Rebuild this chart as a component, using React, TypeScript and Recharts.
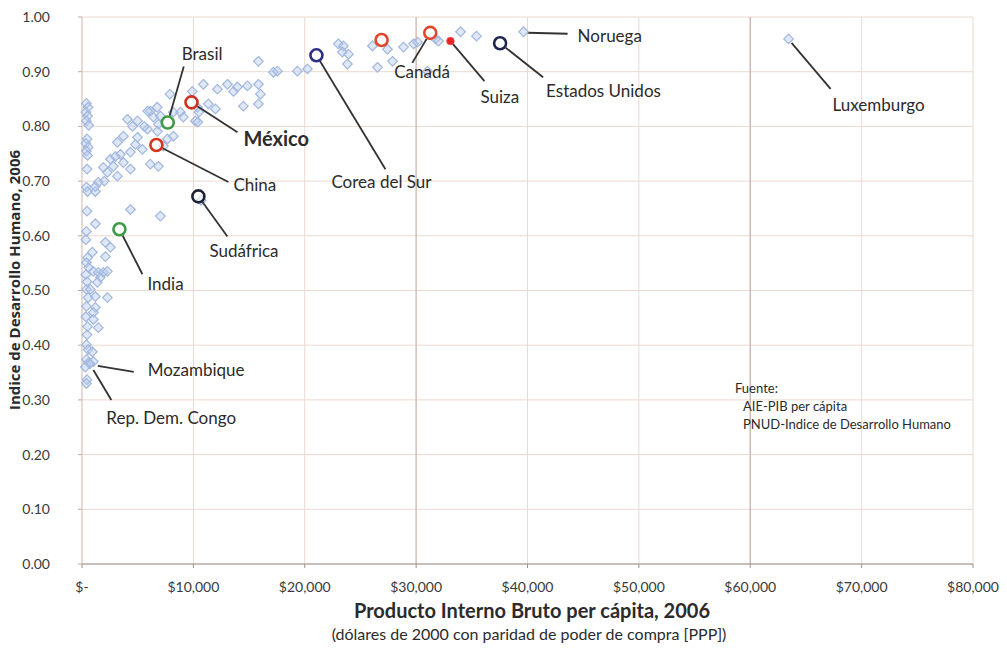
import React from 'react';
import { ScatterChart, Scatter, XAxis, YAxis, CartesianGrid, ReferenceLine } from 'recharts';

const FONT = 'Lato, "Open Sans", sans-serif';

// ---------- data ----------
const xTicks = [0, 10000, 20000, 30000, 40000, 50000, 60000, 70000, 80000];
const xMinorTicks = Array.from({ length: 41 }, (_, i) => i * 2000);
const yTicks = [0, 0.1, 0.2, 0.3, 0.4, 0.5, 0.6, 0.7, 0.8, 0.9, 1.0];

// other countries: [PIB per cápita, IDH]
const otherCountries: [number, number][] = [
  // poorest column
  [400, 0.842], [550, 0.835], [350, 0.826], [500, 0.819], [400, 0.81], [600, 0.802],
  [450, 0.777], [350, 0.769], [550, 0.762], [400, 0.755], [500, 0.747], [450, 0.722],
  [400, 0.689], [500, 0.681], [450, 0.645], [400, 0.608], [350, 0.593], [500, 0.56],
  [400, 0.551], [600, 0.542], [350, 0.529], [450, 0.516], [400, 0.502], [550, 0.487],
  [400, 0.471], [350, 0.452], [500, 0.434], [450, 0.419], [400, 0.401], [550, 0.392],
  [400, 0.374], [600, 0.368], [450, 0.337], [400, 0.33],
  // low income
  [1200, 0.681], [1200, 0.622], [2100, 0.588], [2550, 0.579], [930, 0.57], [2100, 0.562],
  [1020, 0.535], [1470, 0.533], [1920, 0.533], [2280, 0.535], [1650, 0.524], [1380, 0.515],
  [750, 0.502], [1200, 0.489], [2280, 0.487], [1200, 0.469], [1020, 0.46], [1020, 0.447],
  [1470, 0.432], [930, 0.388], [1020, 0.37], [4350, 0.648], [7040, 0.636], [10700, 0.665],
  // middle income cluster
  [1200, 0.69], [1470, 0.698], [1920, 0.725], [2280, 0.716], [2550, 0.74], [2820, 0.727],
  [3180, 0.709], [3180, 0.771], [3450, 0.749], [3720, 0.734], [3720, 0.782], [4080, 0.813],
  [4350, 0.753], [4350, 0.722], [4530, 0.8], [4800, 0.767], [4980, 0.81], [4980, 0.78],
  [5420, 0.758], [5870, 0.795], [6140, 0.828], [6140, 0.731], [6410, 0.817], [6770, 0.791],
  [6860, 0.804], [6860, 0.727], [7040, 0.819], [7310, 0.764], [7670, 0.777], [8210, 0.782],
  [8840, 0.826], [9100, 0.817], [10180, 0.81], [10360, 0.835], [2000, 0.7], [3000, 0.745],
  [5600, 0.8], [7900, 0.859], [9900, 0.864], [5900, 0.828], [6750, 0.835], [8200, 0.826],
  [10400, 0.808],
  // upper middle
  [10900, 0.877], [12160, 0.868], [13060, 0.877], [13600, 0.864], [13950, 0.872], [14850, 0.874],
  [15840, 0.877], [16020, 0.859], [14490, 0.837], [15840, 0.841], [15840, 0.919], [17190, 0.899],
  [17550, 0.901], [19340, 0.901], [20240, 0.905], [11980, 0.832], [11350, 0.841], [10500, 0.826],
  // high income
  [23020, 0.951], [23470, 0.947], [23380, 0.936], [23920, 0.932], [23830, 0.914], [26080, 0.947],
  [27430, 0.941], [27880, 0.919], [26530, 0.908], [28870, 0.945], [29770, 0.951], [30130, 0.954],
  [31740, 0.96], [32010, 0.956], [31020, 0.901], [33990, 0.973], [35420, 0.965],
];

const highlightNames = ['Brasil', 'México', 'China', 'Sudáfrica', 'India', 'Corea del Sur', 'Otro', 'Canadá', 'Suiza', 'Estados Unidos'];
const highlightGdp = [7700, 9830, 6680, 10450, 3360, 21050, 26900, 31270, 33080, 37540];
const highlightHdi = [0.807, 0.844, 0.766, 0.672, 0.612, 0.93, 0.958, 0.971, 0.956, 0.952];

const labeledNames = ['Noruega', 'Luxemburgo', 'Mozambique', 'Rep. Dem. Congo'];
const labeledGdp = [39650, 63440, 700, 300];
const labeledHdi = [0.973, 0.96, 0.366, 0.36];

const sourceLines = ['Fuente:', 'AIE-PIB per cápita', 'PNUD-Indice de Desarrollo Humano'];

// ---------- styles ----------
type Ann = {
  kind: 'ring' | 'dot' | 'diamond';
  color?: string;
  end?: [number, number];
  text?: [number, number];
  anchor?: 'start' | 'middle' | 'end';
  bold?: boolean;
  start?: [number, number];
};

const annStyle: Record<string, Ann> = {
  'Brasil': { kind: 'ring', color: '#3f9a48', end: [16, -56], text: [14, -63] },
  'México': { kind: 'ring', color: '#d2301f', end: [46, 30], text: [52, 44], bold: true },
  'China': { kind: 'ring', color: '#d9331f', end: [72, 37], text: [77, 46] },
  'Sudáfrica': { kind: 'ring', color: '#1d2233', end: [29, 40], text: [11, 61] },
  'India': { kind: 'ring', color: '#3f9a48', end: [23, 45], text: [28, 61] },
  'Corea del Sur': { kind: 'ring', color: '#2a2f86', end: [69, 114], text: [15, 133] },
  'Otro': { kind: 'ring', color: '#e0472c' },
  'Canadá': { kind: 'ring', color: '#e0472c', end: [-18, 30], text: [-36, 45] },
  'Suiza': { kind: 'dot', color: '#e52424', end: [34, 40], text: [30, 62] },
  'Estados Unidos': { kind: 'ring', color: '#1f2650', end: [43, 34], text: [46, 54] },
  'Noruega': { kind: 'diamond', start: [4, 1], end: [44, 2], text: [54, 10] },
  'Luxemburgo': { kind: 'diamond', start: [3, 4], end: [42, 50], text: [44, 72] },
  'Mozambique': { kind: 'diamond', start: [8, 2], end: [44, 8], text: [58, 12] },
  'Rep. Dem. Congo': { kind: 'diamond', start: [8, 3], end: [26, 33], text: [21, 57] },
};

const highlightData = highlightNames.map((name, i) => ({ name, gdp: highlightGdp[i], hdi: highlightHdi[i] }));
const labeledData = labeledNames.map((name, i) => ({ name, gdp: labeledGdp[i], hdi: labeledHdi[i] }));
const otherData = otherCountries.map(([gdp, hdi]) => ({ gdp, hdi }));

const DIAMOND_FILL = 'rgba(185,204,238,0.45)';
const DIAMOND_STROKE = '#a2b7de';
const TEXT = '#2b2b2b';

const Diamond = ({ cx, cy }: any) => {
  if (cx == null || cy == null) return null;
  const r = 4.8;
  return (
    <polygon
      points={`${cx},${cy - r} ${cx + r},${cy} ${cx},${cy + r} ${cx - r},${cy}`}
      fill={DIAMOND_FILL}
      stroke={DIAMOND_STROKE}
      strokeWidth={1.2}
    />
  );
};

const Annotated = (props: any) => {
  const { cx, cy, payload } = props;
  if (cx == null || cy == null) return null;
  const a = annStyle[payload.name];
  const r = 6;
  let mark: React.ReactNode = null;
  if (a.kind === 'ring') {
    mark = <circle cx={cx} cy={cy} r={r} fill="rgba(255,255,255,0.6)" stroke={a.color} strokeWidth={2.6} />;
  } else if (a.kind === 'dot') {
    mark = <circle cx={cx} cy={cy} r={3.8} fill={a.color} stroke="#f05050" strokeWidth={0.8} />;
  } else {
    mark = <Diamond cx={cx} cy={cy} />;
  }
  let line: React.ReactNode = null;
  if (a.end) {
    let sx: number, sy: number;
    if (a.start) {
      sx = cx + a.start[0];
      sy = cy + a.start[1];
    } else {
      const len = Math.hypot(a.end[0], a.end[1]);
      const rr = a.kind === 'dot' ? 3 : r + 1;
      sx = cx + (a.end[0] / len) * rr;
      sy = cy + (a.end[1] / len) * rr;
    }
    line = <line x1={sx} y1={sy} x2={cx + a.end[0]} y2={cy + a.end[1]} stroke="#333" strokeWidth={1.8} />;
  }
  return (
    <g>
      {line}
      {mark}
      {a.text && (
        <text
          x={cx + a.text[0]}
          y={cy + a.text[1]}
          textAnchor={a.anchor || 'start'}
          fontFamily={FONT}
          fontSize={a.bold ? 20 : 17}
          fontWeight={a.bold ? 700 : 400}
          fill={TEXT}
        >
          {payload.name}
        </text>
      )}
    </g>
  );
};

const fmtX = (v: number) => (v === 0 ? '$-' : '$' + v.toLocaleString('en-US'));
const fmtY = (v: number) => v.toFixed(2);

const tickStyle = { fontFamily: FONT, fontSize: 14, fill: '#3a3a3a' };

export default function App() {
  return (
    <div style={{ position: 'absolute', left: 0, top: 0, width: 1007, height: 654, background: '#fff', fontFamily: FONT }}>
      <ScatterChart width={1007} height={654} margin={{ top: 17, right: 34, bottom: 0, left: 0 }}>
        <CartesianGrid stroke="#ead9d1" strokeWidth={1} />
        <XAxis
          xAxisId="minor"
          type="number"
          dataKey="gdp"
          domain={[0, 80000]}
          ticks={xMinorTicks}
          tickFormatter={() => ''}
          height={0}
          axisLine={false}
          tickSize={3}
          tickLine={{ stroke: '#9d928b' }}
        />
        <XAxis
          type="number"
          dataKey="gdp"
          domain={[0, 80000]}
          ticks={xTicks}
          tickFormatter={fmtX}
          height={90}
          tick={tickStyle}
          tickSize={4}
          tickMargin={14}
          axisLine={{ stroke: '#9d928b' }}
          tickLine={{ stroke: '#9d928b' }}
          interval={0}
        />
        <YAxis
          type="number"
          dataKey="hdi"
          domain={[0, 1]}
          ticks={yTicks}
          tickFormatter={fmtY}
          width={82}
          tick={tickStyle}
          tickSize={4}
          tickMargin={28}
          axisLine={{ stroke: '#d9c9c1' }}
          tickLine={{ stroke: '#b9ada6' }}
          interval={0}
        />
        <ReferenceLine x={30000} stroke="#cbbab1" strokeWidth={1.2} />
        <ReferenceLine x={60000} stroke="#c3b2a9" strokeWidth={1.2} />
        <Scatter data={otherData} shape={Diamond} isAnimationActive={false} />
        <Scatter data={labeledData} shape={Annotated} isAnimationActive={false} />
        <Scatter data={highlightData} shape={Annotated} isAnimationActive={false} />
      </ScatterChart>

      <div
        style={{
          position: 'absolute',
          left: 14,
          top: 280,
          transform: 'translate(-50%, -50%) rotate(-90deg)',
          whiteSpace: 'nowrap',
          fontFamily: '"Open Sans", sans-serif',
          fontSize: 15,
          lineHeight: '16px',
          fontWeight: 700,
          color: TEXT,
        }}
      >
        Indice de Desarrollo Humano, 2006
      </div>
      <div style={{ position: 'absolute', left: 0, width: 1064, top: 598, textAlign: 'center', fontSize: 20, fontWeight: 700, color: TEXT, whiteSpace: 'nowrap' }}>
        Producto Interno Bruto per cápita, 2006
      </div>
      <div style={{ position: 'absolute', left: 0, width: 1058, top: 624, textAlign: 'center', fontSize: 16, color: TEXT, whiteSpace: 'nowrap' }}>
        (dólares de 2000 con paridad de poder de compra [PPP])
      </div>
      <div style={{ position: 'absolute', left: 735, top: 379, fontSize: 13, lineHeight: '18px', color: TEXT }}>
        {sourceLines.map((s, i) => (
          <div key={i} style={{ paddingLeft: i === 0 ? 0 : 8 }}>{s}</div>
        ))}
      </div>
    </div>
  );
}
